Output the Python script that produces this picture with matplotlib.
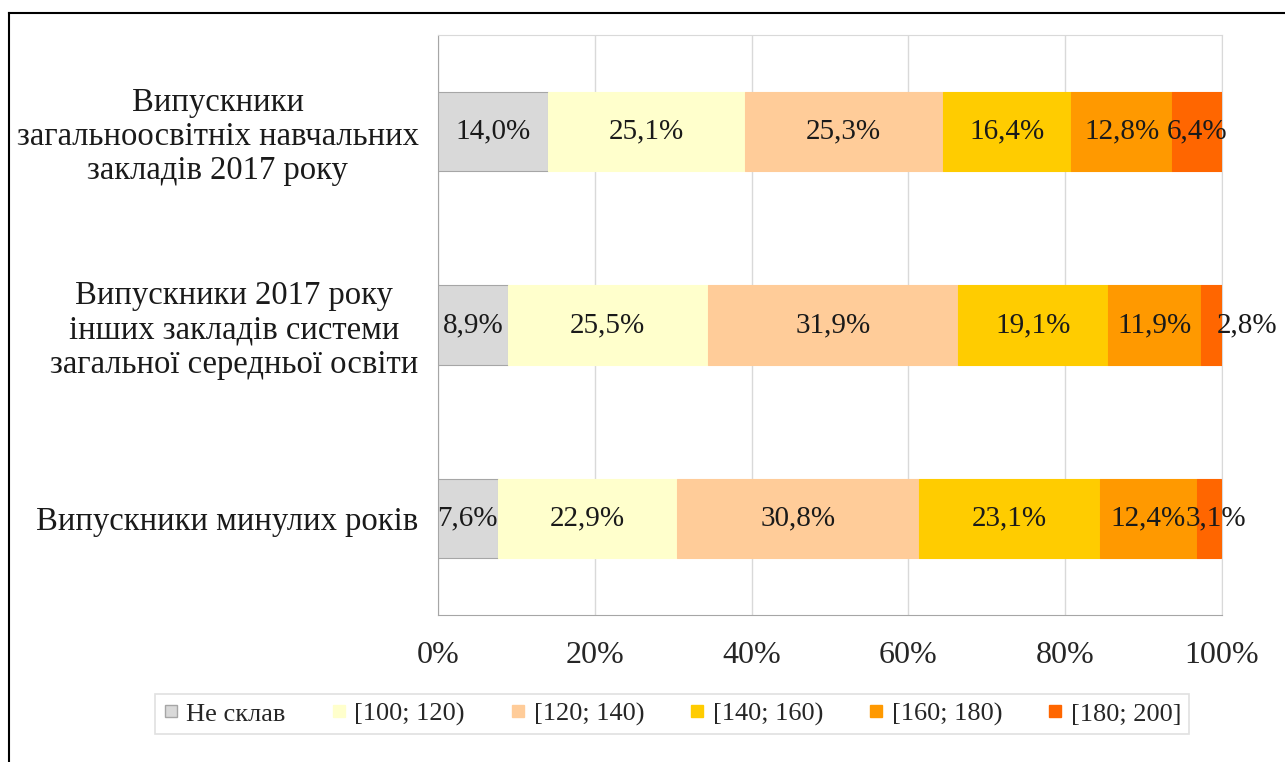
import numpy as np
import matplotlib
matplotlib.use('Agg')
import matplotlib.pyplot as plt
from matplotlib.lines import Line2D


plt.rcParams['font.family'] = ['Liberation Serif', 'DejaVu Serif']

categories = ['Випускники\nзагальноосвітніх навчальних\nзакладів 2017 року',
              'Випускники 2017 року\nінших закладів системи\nзагальної середньої освіти',
              'Випускники минулих років']
series = ['Не склав', '[100; 120)', '[120; 140)', '[140; 160)', '[160; 180)', '[180; 200]']
colors = ['#D9D9D9', '#FFFFCC', '#FFCC99', '#FFCC00', '#FF9900', '#FF6600']

ne_sklav = [14.0, 8.9, 7.6]
b100_120 = [25.1, 25.5, 22.9]
b120_140 = [25.3, 31.9, 30.8]
b140_160 = [16.4, 19.1, 23.1]
b160_180 = [12.8, 11.9, 12.4]
b180_200 = [6.4, 2.8, 3.1]
values = [ne_sklav, b100_120, b120_140, b140_160, b160_180, b180_200]

xticks = [0, 20, 40, 60, 80, 100]
xticklabels = ['0%', '20%', '40%', '60%', '80%', '100%']


fig = plt.figure(figsize=[12.85, 7.62], dpi=100)
ax = fig.add_axes([438/1285, 1 - 615/762, (1222 - 438)/1285, (615 - 35)/762])

y = np.arange(len(categories))
left = np.zeros(len(categories))
handles = []
for name, vals, c in zip(series, values, colors):
    vals = np.array(vals)
    ec = '#A6A6A6' if name == 'Не склав' else c
    bars = ax.barh(y, vals, left=left, height=0.41, color=c, edgecolor=ec,
                   linewidth=0.8, zorder=3)
    labels = [f'{v:.1f}%'.replace('.', ',') for v in vals]
    anns = ax.bar_label(bars, labels=labels, label_type='center', fontsize=21,
                        color='#1a1a1a', zorder=4)
    # thin end segments get their labels nudged to the right, like in Excel
    if name == series[-1]:
        for a, v in zip(anns, vals):
            if v < 3:
                a.xyann = (26, 0)
            elif v < 5:
                a.xyann = (5, 0)
    left += vals
    handles.append(Line2D([], [], marker='s', linestyle='none', markersize=9,
                          markerfacecolor=c, markeredgecolor='#A6A6A6' if name == 'Не склав' else c,
                          label=name))

ax.set_ylim(len(categories) - 0.5, -0.5)
ax.set_xlim(0, 100)
ax.set_yticks(y)
ax.set_yticklabels(categories, fontsize=23.5, multialignment='center',
                   linespacing=1.15, color='#1a1a1a')
ax.set_xticks(xticks)
ax.set_xticklabels(xticklabels, fontsize=23, color='#262626')
ax.tick_params(axis='y', length=0, pad=14)
ax.tick_params(axis='x', length=0, pad=19)
ax.grid(axis='x', color='#D9D9D9', linewidth=1, zorder=0)

for s in ['top', 'right']:
    ax.spines[s].set_color('#D9D9D9')
for s in ['left', 'bottom']:
    ax.spines[s].set_color('#A6A6A6')

leg = fig.legend(handles=handles, loc='center', ncol=6,
                 bbox_to_anchor=(672/1285, 1 - 714/762), fontsize=19,
                 frameon=True, fancybox=False, edgecolor='#D9D9D9',
                 handlelength=0.6, handletextpad=0.3, columnspacing=1.7,
                 borderpad=0.3, borderaxespad=0)
leg.get_frame().set_linewidth(1.2)
for t in leg.get_texts():
    t.set_color('#262626')

# black frame line along left and top edges
fig.add_artist(Line2D([9/1285, 9/1285], [0, 1 - 13/762], color='black', linewidth=1.5,
                      transform=fig.transFigure))
fig.add_artist(Line2D([9/1285, 1], [1 - 13/762, 1 - 13/762], color='black', linewidth=1.5,
                      transform=fig.transFigure))

fig.savefig('out.png', dpi=100)
